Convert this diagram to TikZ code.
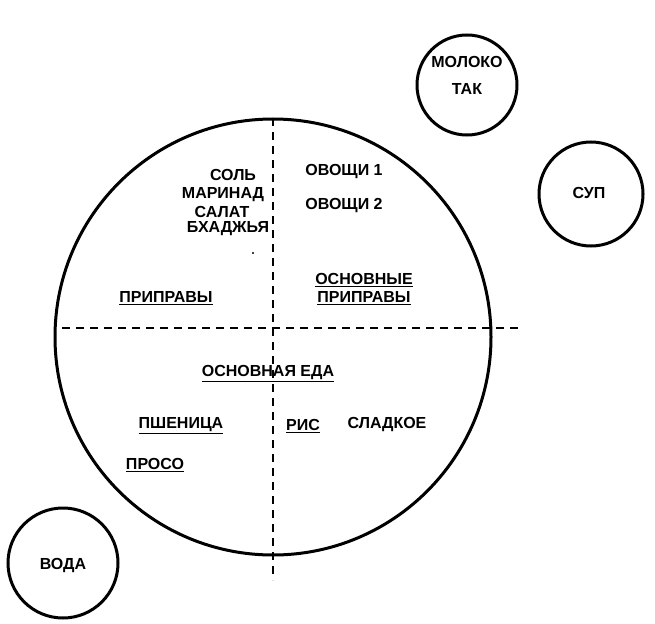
\documentclass[tikz,border=0pt]{standalone}
\usepackage{fontspec}
\setmainfont{Liberation Sans}
\begin{document}
\begin{tikzpicture}[x=1pt,y=-1pt,
  lbl/.style={font=\fontsize{16}{17}\selectfont\bfseries, inner sep=1pt},
  ring/.style={circle, draw, line width=3pt, inner sep=0pt},
  divider/.style={dashed, dash pattern=on 8pt off 6pt, line width=2.2pt}]
\useasboundingbox (0,0) rectangle (655,623);
\node[ring, minimum size=436pt] (main) at (273,337) {};
\node[ring, minimum size=100pt] (milk) at (467,85) {};
\node[ring, minimum size=104pt] (soup) at (591,194) {};
\node[ring, minimum size=110pt] (water) at (63,563) {};
\coordinate (vtop) at (273,118);
\coordinate (vbot) at (273,580);
\coordinate (hl) at (62,328);
\coordinate (hr) at (523,328);
\draw[divider] (vtop) -- (vbot);
\draw[divider] (hl) -- (hr);
\node[lbl] (sol) at (233,175) {СОЛЬ};
\node[lbl] (marinad) at (223,195) {МАРИНАД};
\node[lbl] (salat) at (222,212) {САЛАТ};
\node[lbl] (bhaj) at (228,229) {БХАДЖЬЯ};
\node[lbl] (veg1) at (344,172) {ОВОЩИ 1};
\node[lbl] (veg2) at (344,206) {ОВОЩИ 2};
\node[lbl] (spices) at (166,298) {\underline{ПРИПРАВЫ}};
\node[lbl] (mainsp1) at (364,280) {\underline{ОСНОВНЫЕ}};
\node[lbl] (mainsp2) at (364,298) {\underline{ПРИПРАВЫ}};
\node[lbl] (mainfood) at (268,374) {\underline{ОСНОВНАЯ ЕДА}};
\node[lbl] (wheat) at (181,426) {\underline{ПШЕНИЦА}};
\node[lbl] (millet) at (155,465) {\underline{ПРОСО}};
\node[lbl] (rice) at (303,426) {\underline{РИС}};
\node[lbl] (sweet) at (387,425) {СЛАДКОЕ};
\node[lbl] (milkt1) at (467,62) {МОЛОКО};
\node[lbl] (milkt2) at (467,89) {ТАК};
\node[lbl] (soupt) at (589,193) {СУП};
\node[lbl] (watert) at (63,565) {ВОДА};
\fill (253,253) circle (1.2pt);
\end{tikzpicture}
\end{document}
